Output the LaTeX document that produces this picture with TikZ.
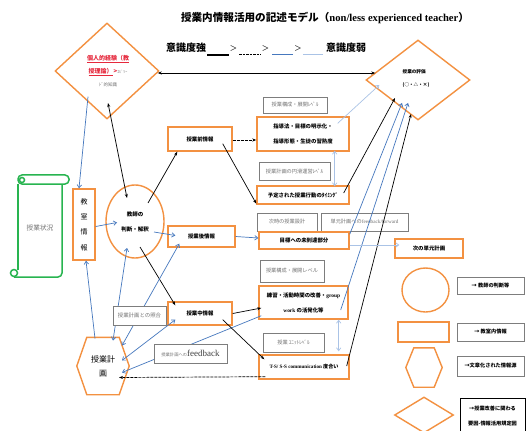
\documentclass[tikz,border=0pt]{standalone}
\usepackage{fontspec}
\setmainfont{Liberation Serif}
\newfontfamily\jp{Noto Sans CJK JP}
\usetikzlibrary{shapes.geometric,arrows.meta,calc}
\definecolor{ora}{RGB}{243,145,65}
\definecolor{blu}{RGB}{70,120,190}
\definecolor{lbl}{RGB}{170,195,230}
\definecolor{gry}{RGB}{125,125,125}
\definecolor{gtx}{RGB}{115,115,115}
\definecolor{grn}{RGB}{40,180,80}
\definecolor{redc}{RGB}{230,40,60}
\newcommand{\hexout}[2]{\draw[ora, line width=1.4pt] (#1.west) -- ([shift={(#2,0)}]#1.north west) -- ([shift={(-#2,0)}]#1.north east) -- (#1.east) -- ([shift={(-#2,0)}]#1.south east) -- ([shift={(#2,0)}]#1.south west) -- cycle;}
\tikzset{
 sz/.style 2 args={minimum width=#1, minimum height=#2},
 obox/.style={draw=ora, line width=1.4pt, fill=white, inner sep=0pt, align=center, font=\jp\bfseries\fontsize{5.4}{8}\selectfont},
 gbox/.style={draw=gry, line width=0.7pt, fill=white, inner sep=0pt, align=center, text=gtx, font=\jp\fontsize{5.2}{7}\selectfont},
 odia/.style={diamond, draw=ora, line width=1.4pt, inner sep=0pt, fill=white},
 arK/.style={-{Stealth[length=4pt,width=3pt]}, line width=0.7pt, black},
 arKK/.style={{Stealth[length=4pt,width=3pt]}-{Stealth[length=4pt,width=3pt]}, line width=0.7pt, black},
 arB/.style={-{Straight Barb[length=3pt,width=4.5pt]}, line width=0.7pt, blu},
 arBB/.style={{Straight Barb[length=3pt,width=4.5pt]}-{Straight Barb[length=3pt,width=4.5pt]}, line width=0.7pt, blu},
 arL/.style={-{Straight Barb[length=3pt,width=4.5pt]}, line width=0.7pt, lbl},
 arLL/.style={{Straight Barb[length=3pt,width=4.5pt]}-{Straight Barb[length=3pt,width=4.5pt]}, line width=0.7pt, lbl},
 scroll/.style={draw=grn, line width=1.5pt},
}
\begin{document}
\begin{tikzpicture}[x=1pt,y=-1pt]
\fill[white] (0,0) rectangle (526,430);
\useasboundingbox (0,0) rectangle (526,430);

% title
\node[font=\bfseries\fontsize{10.6}{12}\selectfont, inner sep=0] (title) at (325,18) {{\jp 授業内情報活用の記述モデル（}non/less experienced teacher{\jp ）}};

% line-style scale
\node[font=\jp\bfseries\fontsize{10}{12}\selectfont, inner sep=0] (strong) at (186,48) {意識度強};
\node[font=\jp\bfseries\fontsize{10}{12}\selectfont, inner sep=0] (weak) at (346,48) {意識度弱};
\node[font=\fontsize{12}{12}\selectfont, inner sep=0] (gt1) at (233.5,49) {>};
\node[font=\fontsize{12}{12}\selectfont, inner sep=0] (gt2) at (265.5,49) {>};
\node[font=\fontsize{12}{12}\selectfont, inner sep=0] (gt3) at (298,49) {>};
\draw[line width=1.6pt] (207,55) -- (229,55);
\draw[line width=1pt, dash pattern=on 2.5pt off 1pt] (239,55) -- (261,55);
\draw[blu, line width=1pt] (272,55) -- (293,55);
\draw[lbl, line width=1pt] (303,55) -- (323,55);

% diamonds
\node[odia, minimum width=104, minimum height=96] (ld) at (107,71) {};
\node[align=center, inner sep=0, font=\jp\fontsize{6}{13}\selectfont] (ldt) at (108,71) {{\color{redc}\bfseries\underline{個人的経験（教}}\\{\color{redc}\bfseries\underline{授理論）}\,>}{\color{gtx}\fontsize{4}{5}\selectfont ｴﾋﾟｿｰ}\\{\color{gtx}\fontsize{4.5}{5}\selectfont ﾄﾞ的知識}};
\node[odia, minimum width=104, minimum height=80] (rd) at (418,80) {};
\node[align=left, inner sep=0, font=\jp\bfseries\fontsize{4.6}{13}\selectfont] (rdt) at (416,78.5) {授業の評価\\(○・△・×)};

% scroll
\draw[scroll, rounded corners=4] (18,175) rectangle (69,184);
\draw[scroll] (22,180) circle (2.5);
\draw[scroll] (18,184) -- (18,270);
\draw[scroll, rounded corners=4] (62,184) -- (62,277) -- (14,277);
\draw[scroll] (14,273) circle (3.5);
\node[text=gtx, font=\jp\fontsize{6.7}{8}\selectfont] (sit) at (40,228) {授業状況};

% left column
\node[obox, sz={22}{71}, font=\jp\fontsize{7}{15.3}\selectfont] (kyo) at (84,224.5) {教\\室\\情\\報};
\node[ellipse, draw=ora, line width=1.4pt, fill=white, sz={58}{73}, inner sep=0, align=center, font=\jp\bfseries\fontsize{5.5}{15}\selectfont] (ell) at (135,221.5) {教師の\\判断・解釈};
\node[obox, sz={64}{24}] (pre) at (200,139) {授業前情報};
\node[obox, sz={67}{21}] (post) at (201.5,236.5) {授業後情報};
\node[obox, sz={64}{23}] (mid) at (200,313.5) {授業中情報};
\node[inner sep=0, sz={52}{57}, align=center, font=\jp\fontsize{8}{14}\selectfont] (hex) at (103,366) {授業計\\画};
\hexout{hex}{10}

% right column
\node[gbox, sz={64}{16}] (g1) at (295,105) {授業構成・展開ﾚﾍﾞﾙ};
\node[obox, sz={92}{34}, font=\jp\bfseries\fontsize{5.4}{15}\selectfont] (o1) at (303,134) {指導法・目標の明示化・\\指導形態・生徒の習熟度};
\node[gbox, sz={71}{18}] (g2) at (294.5,171) {授業計画の円滑運営ﾚﾍﾞﾙ};
\node[obox, sz={92}{18}] (o2) at (303,195) {予定された授業行動のﾀｲﾐﾝｸﾞ};
\node[gbox, sz={60}{18}] (g3) at (287,222) {次時の授業設計};
\node[gbox, sz={87}{18}] (g4) at (364.5,222) {単元計画への{\rmfamily feedback/forward}};
\node[obox, sz={90}{17}] (o3) at (304,240.5) {目標への未到達部分};
\node[obox, sz={68}{19}] (o4) at (429,248.5) {次の単元計画};
\node[gbox, sz={64}{22}] (g5) at (292,271) {授業構成・展開レベル};
\node[obox, sz={89}{33}, font=\jp\bfseries\fontsize{5.4}{15}\selectfont] (o5) at (303.5,302.5) {練習・活動時間の改善・{\rmfamily group}\\{\rmfamily work} の活発化等};
\node[gbox, sz={61}{19}] (g6) at (293.5,342.5) {授業 ﾕﾆｯﾄﾚﾍﾞﾙ};
\node[obox, sz={90}{24}, font=\jp\bfseries\fontsize{5.1}{8}\selectfont] (o6) at (304,367) {{\rmfamily T-S/ S-S communication} 度合い};

% legend
\node[ellipse, draw=ora, line width=1.4pt, sz={47}{44}, inner sep=0] (lc) at (425.5,290) {};
\node[gbox, text=black, sz={67}{17}, font=\jp\bfseries\fontsize{5.2}{7}\selectfont] (lg1) at (490.5,285.5) {→\ 教師の判断等};
\node[obox, sz={51}{20}] (lr) at (423.5,332) {};
\node[gbox, text=black, sz={67}{18}, font=\jp\bfseries\fontsize{5.2}{7}\selectfont] (lg2) at (490.5,332) {→\ 教室内情報};
\node[inner sep=0, sz={36}{39}] (lh) at (424,367.5) {};
\hexout{lh}{8}
\node[gbox, text=black, sz={67}{20}, font=\jp\bfseries\fontsize{5.2}{7}\selectfont] (lg3) at (490.5,366) {→文章化された情報源};
\node[odia, minimum width=59, minimum height=36] (ldm) at (424,415) {};
\node[draw=black, line width=0.9pt, fill=white, sz={65}{36}, inner sep=0, align=center, font=\jp\bfseries\fontsize{5.2}{15}\selectfont] (lg4) at (492.5,416) {→授業改善に関わる\\要因-情報活用規定因};

% connectors
\draw[arKK] ([shift={(-2,2)}]ld.east) -- ([shift={(10,-7)}]rd.west);
\draw[arB] ([shift={(-19,-23)}]ld.south) -- ([shift={(-5,0)}]kyo.north);
\draw[arKK] ([shift={(1,32)}]ld.center) -- ([shift={(-8,-23.5)}]ell.center);
\draw[arB] ([shift={(0,2)}]kyo.east) -- ([shift={(-18,1)}]ell.center);
\draw[arK] ([shift={(13,-18.5)}]ell.center) -- ([shift={(10,0)}]pre.south west);
\draw[arB] ([shift={(19,10.5)}]ell.center) -- ([shift={(8,-1)}]post.west);
\draw[arK] ([shift={(5,25.5)}]ell.center) -- ([shift={(8,4)}]mid.north west);
\draw[arB] ([shift={(-8,-27.5)}]hex.center) -- ([shift={(2,0)}]kyo.south);
\draw[arBB] ([shift={(10,-25.5)}]hex.center) -- ([shift={(-8,26.5)}]ell.center);
\draw[arBB] ([shift={(19,-20.5)}]hex.center) -- ([shift={(12,-4)}]post.south west);
\draw[arBB] ([shift={(19,-5.5)}]hex.center) -- ([shift={(8,-6)}]mid.south west);
\draw[arB] ([shift={(3,-4)}]o5.south west) -- ([shift={(19,6.5)}]hex.center);
\draw[arK] (mid.east) -- ([shift={(3,5.5)}]o5.west);
\draw[arK] ([shift={(-10,-6)}]mid.south east) -- ([shift={(6,5)}]o6.north west);
\draw[arK, dash pattern=on 3pt off 1pt] ([shift={(7,-3)}]o6.south west) -- ([shift={(16,11.5)}]hex.center);
\draw[arLL] ([shift={(-10,0)}]o5.south east) -- ([shift={(-11,-3)}]o6.north east);
\draw[arLL] ([shift={(-15,-1)}]o1.south east) -- ([shift={(-15,1)}]o2.north east);
\draw[arL] ([shift={(-12,7)}]o1.north east) -- ([shift={(14,5)}]rd.west);
\draw[arK] ([shift={(-6,-2)}]o2.east) -- ([shift={(-23,18)}]rd.center);
\draw[arB] ([shift={(0,3)}]o3.north east) -- ([shift={(-16,23)}]rd.center);
\draw[arB] ([shift={(-8,7.5)}]o5.east) -- ([shift={(-10,23)}]rd.center);
\draw[arK] ([shift={(-3,-1)}]o6.east) -- ([shift={(-7,34)}]rd.center);
\draw[arK, dash pattern=on 3pt off 1pt] ([shift={(0,1)}]pre.east) -- ([shift={(0,6)}]o1.west);
\draw[arK] ([shift={(-10,-8)}]pre.south east) -- ([shift={(0,-1)}]o2.south west);
\draw[arB] (post.east) -- ([shift={(0,-2.5)}]o3.west);
\draw[arL] ([shift={(0,4.5)}]o3.east) -- ([shift={(5,-3.5)}]o4.west);

% label boxes lying on connectors
\node[gbox, sz={53}{19}, font=\jp\fontsize{5.4}{7}\selectfont] (gA) at (139.5,315.5) {授業計画との照合};
\node[gbox, sz={73}{19}] (gB) at (190.5,353.5) {{\fontsize{4.3}{6}\selectfont 授業計画への}{\rmfamily\color{black!75}\fontsize{9}{10}\selectfont feedback}};
\end{tikzpicture}
\end{document}
